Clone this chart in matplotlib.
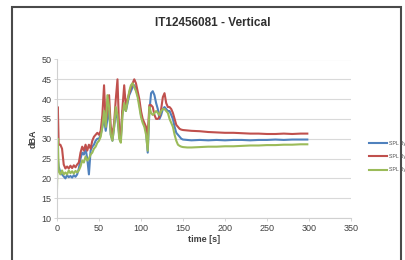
import matplotlib
matplotlib.use("Agg")
import matplotlib.pyplot as plt
from matplotlib.patches import Rectangle

plt.rcParams['font.family'] = ['Liberation Sans', 'DejaVu Sans']

title = "IT12456081 - Vertical"
x_label = "time [s]"
y_label = "dBA"
series_labels = ["SPL By", "SPL By", "SPL By"]
colors = ["#4F81BD", "#C0504D", "#9BBB59"]

time_s = [0, 1, 2, 4, 6, 8, 10, 12, 14, 16, 18, 20, 22, 24, 26, 28, 30, 32, 34, 36,
          38, 40, 42, 44, 46, 48, 50, 52, 54, 56, 58, 60, 62, 64, 66, 68, 70, 72, 74,
          76, 78, 80, 82, 84, 86, 88, 90, 92, 94, 96, 98, 100, 102, 104, 106, 108,
          110, 112, 114, 116, 118, 120, 122, 124, 126, 128, 130, 132, 134, 136, 138,
          140, 142, 144, 146, 148, 150, 155, 160, 170, 180, 190, 200, 210, 220, 230,
          240, 250, 260, 270, 280, 290, 298]

spl_blue = [24, 25, 23, 21.5, 21, 20.5, 20, 20.8, 20.3, 20.6, 20.2, 20.8, 20.4, 21, 22.5,
            25, 26.5, 26, 27.5, 25, 21, 27, 28, 28.5, 29.5, 30, 30, 31, 33, 35, 32, 35,
            37, 31, 29.5, 33, 37, 35, 31, 30, 37, 38, 37, 39, 41, 42, 43, 43.5, 42.5, 41,
            39, 36, 34.5, 33.5, 32, 26.5, 37, 41.5, 42, 41, 39, 37.5, 35, 36, 37.5, 38,
            37.5, 37, 37, 36, 35, 33, 31.5, 31, 30.5, 30, 29.8, 29.7, 29.6, 29.7, 29.6,
            29.7, 29.6, 29.7, 29.7, 29.6, 29.7, 29.7, 29.8, 29.7, 29.8, 29.8, 29.8]

spl_red = [30, 38, 28.5, 28.5, 27.5, 23.5, 22.5, 23, 22.5, 23.2, 22.6, 23.3, 22.8, 23.5,
           24, 26.5, 28, 27, 28.5, 27, 28.5, 27.5, 29.5, 30.5, 31, 31.5, 31, 32, 36,
           43.5, 34, 37, 41, 33, 31, 34, 40, 45, 32, 31, 38, 43.5, 38, 40, 41.5, 43, 44,
           45, 44, 42, 40, 37, 35, 34, 33, 31, 38.5, 38.5, 38, 36, 35, 35, 35.5, 37.5,
           40.5, 41.5, 39, 38, 38, 37.5, 36.5, 35, 33.5, 33, 32.5, 32.3, 32.2, 32.1, 32,
           31.9, 31.7, 31.6, 31.5, 31.5, 31.4, 31.3, 31.3, 31.2, 31.2, 31.3, 31.2, 31.3,
           31.3]

spl_green = [17.5, 30, 22, 21, 22, 21, 21.5, 21, 22, 21.3, 21.8, 21.2, 21.9, 21.5, 22,
             23, 24.5, 24, 25.5, 24.5, 25, 26, 26.5, 27.5, 28, 29, 29.5, 30.5, 33, 37,
             33, 41, 38, 31, 29.5, 33, 38, 36, 30, 29, 36, 39, 37, 39.5, 42, 43.5, 44, 43,
             42, 40.5, 38, 35.5, 34, 33, 31, 27, 38, 36.5, 36, 36.5, 37, 36.5, 36, 37,
             37.5, 37.5, 37, 36.5, 35, 34, 33, 31, 29.5, 28.5, 28.2, 28, 27.9, 27.8, 27.8,
             27.9, 28, 28, 28.1, 28.1, 28.2, 28.3, 28.3, 28.4, 28.4, 28.5, 28.5, 28.6,
             28.6]

fig = plt.figure(figsize=(4.05, 2.6), dpi=100)
fig.patch.set_facecolor("white")

# outer chart border
fig.patches.append(Rectangle((12 / 405, -0.05), 389 / 405, 1.05 - 7.5 / 260,
                             transform=fig.transFigure, fill=False,
                             edgecolor="#4a4a4a", linewidth=1.5))

ax = fig.add_axes([57 / 405, 1 - 218 / 260, 294 / 405, 158.5 / 260])
for vals, c, lab in zip([spl_blue, spl_red, spl_green], colors, series_labels):
    ax.plot(time_s, vals, color=c, linewidth=1.5, label=lab)

ax.set_xlim(0, 350)
ax.set_ylim(10, 50)
ax.set_xticks(range(0, 351, 50))
ax.set_yticks(range(10, 51, 5))
ax.grid(axis="y", color="#d9d9d9", linewidth=0.8)
ax.set_axisbelow(True)
for s in ["top", "right"]:
    ax.spines[s].set_visible(False)
ax.spines["left"].set_color("#d0d0d0")
ax.spines["bottom"].set_color("#d0d0d0")
ax.tick_params(axis="both", labelsize=6.5, colors="#d0d0d0", labelcolor="#404040",
               length=2, width=0.6, pad=2)

ax.set_xlabel(x_label, fontsize=6.5, fontweight="bold", color="#404040", labelpad=2)
ax.set_ylabel(y_label, fontsize=6.5, fontweight="bold", color="#404040", labelpad=3)
fig.text(213 / 405, 1 - 23 / 260, title, ha="center", va="center", fontsize=8.5,
         fontweight="bold", color="#303030")

leg = fig.legend(loc="upper left", bbox_to_anchor=(369 / 405, 1 - 140.5 / 260),
                 frameon=False, fontsize=3.8, handlelength=3.5, handletextpad=0.3,
                 labelspacing=1.6, borderpad=0, borderaxespad=0)
for t in leg.get_texts():
    t.set_color("#505050")

fig.savefig("out.png", dpi=100)
